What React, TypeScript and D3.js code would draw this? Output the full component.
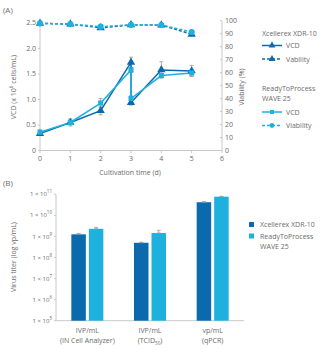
import React from "react";
import * as d3 from "d3";

const vcdDays = [0, 1, 2, 3, 3, 4, 5];
const xdrVcd = [0.33, 0.55, 0.78, 1.73, 0.94, 1.58, 1.56];
const xdrVcdErr = [0.02, 0.05, 0.08, 0.1, 0.05, 0.16, 0.11];
const waveVcd = [0.36, 0.55, 0.93, 1.58, 1.02, 1.47, 1.52];
const waveVcdErr = [0.02, 0.07, 0.09, 0.05, 0.05, 0.04, 0.06];
const viabDays = [0, 1, 2, 3, 4, 5];
const xdrViab = [98, 97.4, 94.5, 96.8, 96.7, 89.5];
const waveViab = [98, 97.4, 95.4, 96.8, 96.7, 91.3];
const xTicks = [0, 1, 2, 3, 4, 5, 6];
const vcdTicks = [0, 0.5, 1.0, 1.5, 2.0, 2.5];
const viabTicks = [0, 10, 20, 30, 40, 50, 60, 70, 80, 90, 100];

const categories = ["IN Cell", "TCID50", "qPCR"];
const catLine1 = ["IVP/mL", "IVP/mL", "vp/mL"];
const xdrTiter = [1.26e9, 5.0e8, 4.2e10];
const xdrTiterErr = [1.2e8, 3e7, 3e9];
const waveTiter = [2.3e9, 1.45e9, 7.7e10];
const waveTiterErr = [4e8, 5e8, 3e9];
const logTicks = [5, 6, 7, 8, 9, 10, 11];

const DARK = "#0b6aad";
const LIGHT = "#1fb1de";
const AXIS = "#c8c8c8";
const TXT = "#6a6a6a";
const ERR = "#9a9a9a";
const FONT = "'Open Sans', sans-serif";

const tri = d3.symbol().type(d3.symbolTriangle).size(30)();
const sq = d3.symbol().type(d3.symbolSquare).size(26)();
const circ = d3.symbol().type(d3.symbolCircle).size(30)();

export default function App() {
  const x = d3.scaleLinear().domain([0, 6]).range([40, 222]);
  const yL = d3.scaleLinear().domain([0, 2.5]).range([150.5, 23]);
  const yR = d3.scaleLinear().domain([0, 100]).range([150.5, 20.7]);

  const vcdLine = (vals: number[]) =>
    d3.line<number>().x((_, i) => x(vcdDays[i])).y((d) => yL(d))(vals) || "";
  const viabLine = (vals: number[]) =>
    d3.line<number>().x((_, i) => x(viabDays[i])).y((d) => yR(d))(vals) || "";

  const xb = d3.scaleBand().domain(categories).range([56, 244]).padding(0);
  const yb = d3.scaleLog().domain([1e5, 1e11]).range([320.7, 194.3]);
  const bw = 14.5;

  const errBar = (cx: number, y1: number, y2: number, key: string) => (
    <g key={key} stroke={ERR} strokeWidth={0.8}>
      <line x1={cx} x2={cx} y1={y1} y2={y2} />
      <line x1={cx - 2} x2={cx + 2} y1={y1} y2={y1} />
      <line x1={cx - 2} x2={cx + 2} y1={y2} y2={y2} />
    </g>
  );

  const sup = (e: number) => (
    <>
      1 × 10<tspan dy={-3} fontSize={4.5}>{e}</tspan>
    </>
  );

  return (
    <svg
      width={334}
      height={352}
      style={{ position: "absolute", left: 0, top: 0, background: "#fff" }}
      fontFamily={FONT}
    >
      <text x={3} y={13} fontSize={8} fill={TXT}>(A)</text>
      {/* axes A */}
      <line x1={40} x2={40} y1={yL(2.5)} y2={yL(0)} stroke={AXIS} />
      <line x1={40} x2={222} y1={150.5} y2={150.5} stroke={AXIS} />
      <line x1={222} x2={222} y1={yR(100)} y2={yR(0)} stroke={AXIS} />
      {vcdTicks.map((t) => (
        <g key={"l" + t}>
          <line x1={38} x2={40} y1={yL(t)} y2={yL(t)} stroke={AXIS} />
          <text x={36} y={yL(t)} dy="0.35em" textAnchor="end" fontSize={7} fill={TXT}>
            {t === 0 ? "0" : t.toFixed(1)}
          </text>
        </g>
      ))}
      {viabTicks.map((t) => (
        <g key={"r" + t}>
          <line x1={220} x2={222} y1={yR(t)} y2={yR(t)} stroke={AXIS} />
          <text x={225} y={yR(t)} dy="0.35em" fontSize={7} fill={TXT}>{t}</text>
        </g>
      ))}
      {xTicks.map((t) => (
        <g key={"x" + t}>
          <line x1={x(t)} x2={x(t)} y1={150.5} y2={153} stroke={AXIS} />
          <text x={x(t)} y={161} textAnchor="middle" fontSize={7} fill={TXT}>{t}</text>
        </g>
      ))}
      <text x={130} y={175} textAnchor="middle" fontSize={7} fill={TXT}>Cultivation time (d)</text>
      <text transform="translate(16,87) rotate(-90)" textAnchor="middle" fontSize={7} fill={TXT}>
        VCD (x 10<tspan dy={-3} fontSize={4.5}>6</tspan><tspan dy={3}> cells/mL)</tspan>
      </text>
      <text transform="translate(244,87) rotate(-90)" textAnchor="middle" fontSize={7} fill={TXT}>
        Viability (%)
      </text>

      {/* viability */}
      <path d={viabLine(xdrViab)} fill="none" stroke={DARK} strokeWidth={1.5} strokeDasharray="3,2" />
      <path d={viabLine(waveViab)} fill="none" stroke={LIGHT} strokeWidth={1.5} strokeDasharray="3,2" />
      {xdrViab.map((v, i) => (
        <path key={"xv" + i} d={tri} fill={DARK} transform={`translate(${x(viabDays[i])},${yR(v)})`} />
      ))}
      {waveViab.map((v, i) => (
        <path key={"wv" + i} d={circ} fill={LIGHT} transform={`translate(${x(viabDays[i])},${yR(v)})`} />
      ))}

      {/* VCD */}
      {xdrVcd.map((v, i) => errBar(x(vcdDays[i]), yL(v + xdrVcdErr[i]), yL(v - xdrVcdErr[i]), "xe" + i))}
      {waveVcd.map((v, i) => errBar(x(vcdDays[i]), yL(v + waveVcdErr[i]), yL(v - waveVcdErr[i]), "we" + i))}
      <path d={vcdLine(xdrVcd)} fill="none" stroke={DARK} strokeWidth={1.5} />
      <path d={vcdLine(waveVcd)} fill="none" stroke={LIGHT} strokeWidth={1.5} />
      {xdrVcd.map((v, i) => (
        <path key={"xm" + i} d={tri} fill={DARK} transform={`translate(${x(vcdDays[i])},${yL(v)})`} />
      ))}
      {waveVcd.map((v, i) => (
        <path key={"wm" + i} d={sq} fill={LIGHT} transform={`translate(${x(vcdDays[i])},${yL(v)})`} />
      ))}

      {/* legend A */}
      <g fontSize={7} fill={TXT}>
        <text x={262} y={36}>Xcellerex XDR-10</text>
        <line x1={262} x2={282} y1={45.5} y2={45.5} stroke={DARK} strokeWidth={1.5} />
        <path d={d3.symbol().type(d3.symbolTriangle).size(20)()} fill={DARK} transform="translate(272,45.5)" />
        <text x={286} y={48}>VCD</text>
        <line x1={262} x2={282} y1={59} y2={59} stroke={DARK} strokeWidth={1.5} strokeDasharray="3,2" />
        <path d={d3.symbol().type(d3.symbolTriangle).size(20)()} fill={DARK} transform="translate(272,59)" />
        <text x={286} y={61.5}>Vability</text>
        <text x={262} y={91}>ReadyToProcess</text>
        <text x={262} y={101}>WAVE 25</text>
        <line x1={262} x2={282} y1={112} y2={112} stroke={LIGHT} strokeWidth={1.5} />
        <path d={d3.symbol().type(d3.symbolSquare).size(16)()} fill={LIGHT} transform="translate(272,112)" />
        <text x={286} y={114.5}>VCD</text>
        <line x1={262} x2={282} y1={125.5} y2={125.5} stroke={LIGHT} strokeWidth={1.5} strokeDasharray="3,2" />
        <path d={d3.symbol().type(d3.symbolCircle).size(18)()} fill={LIGHT} transform="translate(272,125.5)" />
        <text x={286} y={128}>Viability</text>
      </g>

      {/* Chart B */}
      <text x={3} y={186} fontSize={8} fill={TXT}>(B)</text>
      <line x1={56} x2={56} y1={194.3} y2={320.7} stroke={AXIS} />
      <line x1={56} x2={244} y1={320.7} y2={320.7} stroke={AXIS} />
      {logTicks.map((e) => (
        <g key={"lt" + e}>
          <line x1={54} x2={56} y1={yb(Math.pow(10, e))} y2={yb(Math.pow(10, e))} stroke={AXIS} />
          <text x={52} y={yb(Math.pow(10, e))} dy="0.35em" textAnchor="end" fontSize={6} fill={TXT}>
            {sup(e)}
          </text>
        </g>
      ))}
      <text transform="translate(16,257) rotate(-90)" textAnchor="middle" fontSize={7} fill={TXT}>
        Virus titer (log vp/mL)
      </text>
      {categories.map((c, i) => {
        const cx = (xb(c) as number) + xb.bandwidth() / 2;
        const x1 = cx - 1.5 - bw;
        const x2 = cx + 1.5;
        return (
          <g key={c}>
            <rect x={x1} y={yb(xdrTiter[i])} width={bw} height={320.7 - yb(xdrTiter[i])} fill={DARK} />
            <rect x={x2} y={yb(waveTiter[i])} width={bw} height={320.7 - yb(waveTiter[i])} fill={LIGHT} />
            {errBar(x1 + bw / 2, yb(xdrTiter[i] + xdrTiterErr[i]), yb(xdrTiter[i]), "bx" + i)}
            {errBar(x2 + bw / 2, yb(waveTiter[i] + waveTiterErr[i]), yb(waveTiter[i]), "bw" + i)}
            <text x={cx} y={333} textAnchor="middle" fontSize={7} fill={TXT}>{catLine1[i]}</text>
            <text x={cx} y={343} textAnchor="middle" fontSize={7} fill={TXT}>
              {i === 0 ? "(IN Cell Analyzer)" : i === 1 ? (
                <>(TCID<tspan dy={2} fontSize={4.5}>50</tspan><tspan dy={-2}>)</tspan></>
              ) : "(qPCR)"}
            </text>
          </g>
        );
      })}
      <g fontSize={7} fill={TXT}>
        <rect x={249} y={222} width={5} height={5} fill={DARK} />
        <text x={260} y={227}>Xcellerex XDR-10</text>
        <rect x={249} y={233.5} width={5} height={5} fill={LIGHT} />
        <text x={260} y={238.5}>ReadyToProcess</text>
        <text x={260} y={249}>WAVE 25</text>
      </g>
    </svg>
  );
}
